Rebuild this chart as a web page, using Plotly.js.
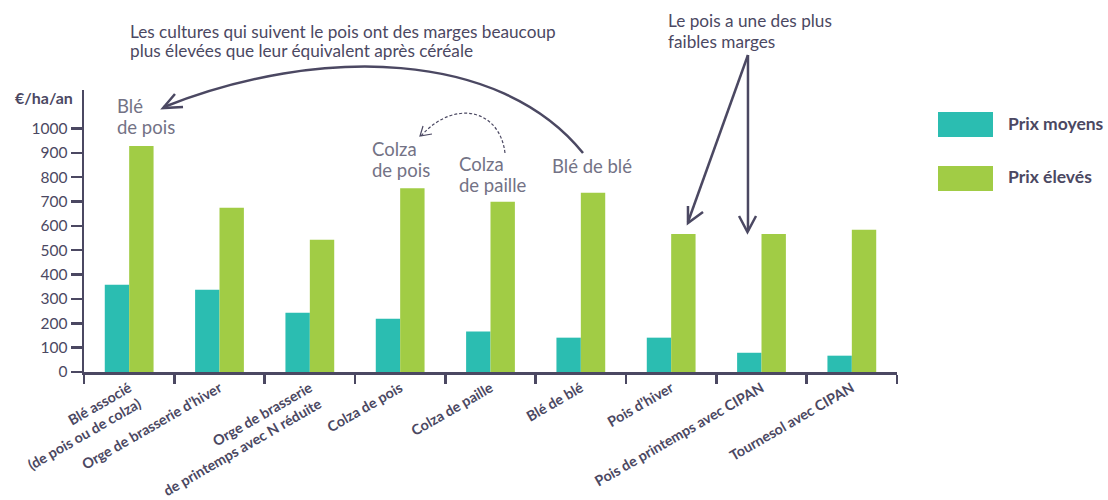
<!DOCTYPE html>
<html>
<head>
<meta charset="utf-8">
<script src="https://cdn.plot.ly/plotly-3.0.1.min.js"></script>
<style>html,body{margin:0;padding:0;background:#fff;}#chart{width:1108px;height:500px;}</style>
</head>
<body>
<div id="chart"></div>
<script>
// ---- data ----
const categories = [
  "Blé associé<br>(de pois ou de colza)",
  "Orge de brasserie d’hiver",
  "Orge de brasserie<br>de printemps avec N réduite",
  "Colza de pois",
  "Colza de paille",
  "Blé de blé",
  "Pois d’hiver",
  "Pois de printemps avec CIPAN",
  "Tournesol avec CIPAN"
];
const prixMoyens = [358, 338, 243, 219, 166, 141, 141, 79, 67];
const prixEleves = [928, 674, 543, 755, 699, 736, 567, 567, 584];
const seriesNames = ["Prix moyens", "Prix élevés"];
const yTicks = [0, 100, 200, 300, 400, 500, 600, 700, 800, 900, 1000];

// ---- style ----
const DARK = "#4b4862";
const GREY = "#737285";
const TEAL = "#2bbdb1";
const GREEN = "#a1cc45";
const FONT = "Lato, 'Noto Sans', sans-serif";

// plot area in pixels
const L = 84, R = 897, T = 90, B = 372;
const px = x => (x - L) / (R - L);
const py = y => (B - y) / (B - T);
const P = (x, y) => px(x).toFixed(4) + "," + py(y).toFixed(4);

const traces = [
  {type: "bar", name: seriesNames[0], x: categories, y: prixMoyens,
   marker: {color: TEAL}, hoverinfo: "y"},
  {type: "bar", name: seriesNames[1], x: categories, y: prixEleves,
   marker: {color: GREEN}, hoverinfo: "y"}
];

const lineStyle = {color: DARK, width: 2.5};
const shapes = [
  // big curved arrow
  {type: "path", xref: "paper", yref: "paper",
   path: "M" + P(583,153) + " C" + P(500,50) + " " + P(320,45) + " " + P(164,107),
   line: lineStyle},
  {type: "path", xref: "paper", yref: "paper",
   path: "M" + P(175,94) + " L" + P(163,108) + " L" + P(183,107),
   line: lineStyle},
  // dashed curved arrow
  {type: "path", xref: "paper", yref: "paper",
   path: "M" + P(505,153) + " C" + P(500,110) + " " + P(455,98) + " " + P(421,136),
   line: {color: DARK, width: 1.2, dash: "3px,2px"}},
  {type: "path", xref: "paper", yref: "paper",
   path: "M" + P(423,126) + " L" + P(420,136) + " L" + P(432,134),
   line: {color: DARK, width: 1.2}},
  // straight arrows
  {type: "path", xref: "paper", yref: "paper",
   path: "M" + P(748,55) + " L" + P(688,222), line: lineStyle},
  {type: "path", xref: "paper", yref: "paper",
   path: "M" + P(688,206) + " L" + P(688,223) + " L" + P(703,212), line: lineStyle},
  {type: "path", xref: "paper", yref: "paper",
   path: "M" + P(748,55) + " L" + P(748,231), line: lineStyle},
  {type: "path", xref: "paper", yref: "paper",
   path: "M" + P(739,216) + " L" + P(747.5,232) + " L" + P(756,216), line: lineStyle},
  // legend swatches
  {type: "rect", xref: "paper", yref: "paper",
   x0: px(938), x1: px(993), y0: py(137), y1: py(112),
   fillcolor: TEAL, line: {width: 0}},
  {type: "rect", xref: "paper", yref: "paper",
   x0: px(938), x1: px(993), y0: py(191), y1: py(166),
   fillcolor: GREEN, line: {width: 0}}
];

function ann(text, x, y, size, color, weight) {
  return {
    text: text, xref: "paper", yref: "paper", x: px(x), y: py(y),
    xanchor: "left", yanchor: "middle", showarrow: false, align: "left",
    font: {family: FONT, size: size, color: color, weight: weight || 400}
  };
}

const annotations = [
  ann("€/ha/an", 13, 97, 16, DARK, 700),
  ann("Les cultures qui suivent le pois ont des marges beaucoup", 128, 31, 17.2, DARK),
  ann("plus élevées que leur équivalent après céréale", 128, 51, 17.2, DARK),
  ann("Le pois a une des plus", 666, 21, 17.2, DARK),
  ann("faibles marges", 666, 41, 17.2, DARK),
  ann("Blé", 115, 106, 18.5, GREY),
  ann("de pois", 115, 127, 18.5, GREY),
  ann("Colza", 370, 149, 18.5, GREY),
  ann("de pois", 370, 170, 18.5, GREY),
  ann("Colza", 457, 164, 18.5, GREY),
  ann("de paille", 457, 185, 18.5, GREY),
  ann("Blé de blé", 550, 166, 18.5, GREY),
  ann(seriesNames[0], 1006, 124, 17.5, DARK, 700),
  ann(seriesNames[1], 1006, 176, 17.5, DARK, 700)
];

const layout = {
  width: 1108, height: 500,
  margin: {l: L, r: 1108 - R, t: T, b: 500 - B, pad: 0},
  paper_bgcolor: "#ffffff", plot_bgcolor: "#ffffff",
  showlegend: false,
  barmode: "group", bargap: 0.46, bargroupgap: 0,
  font: {family: FONT, color: DARK},
  xaxis: {
    type: "category", range: [-0.5, 8.5],
    showline: true, linecolor: DARK, linewidth: 2.5,
    ticks: "outside", tickson: "boundaries", ticklen: 9, tickwidth: 2.5, tickcolor: DARK,
    tickangle: -30, tickfont: {family: FONT, size: 14.3, color: DARK, weight: 700},
    showgrid: false, zeroline: false, fixedrange: true
  },
  yaxis: {
    range: [0, 1158], tickvals: yTicks, ticktext: yTicks.map(String),
    showline: true, linecolor: DARK, linewidth: 2.5,
    ticks: "outside", ticklen: 11, tickwidth: 2.5, tickcolor: DARK,
    tickfont: {family: FONT, size: 15.5, color: DARK},
    showgrid: false, zeroline: false, fixedrange: true
  },
  shapes: shapes,
  annotations: annotations
};

Plotly.newPlot("chart", traces, layout, {displayModeBar: false, staticPlot: true});
</script>
</body>
</html>
